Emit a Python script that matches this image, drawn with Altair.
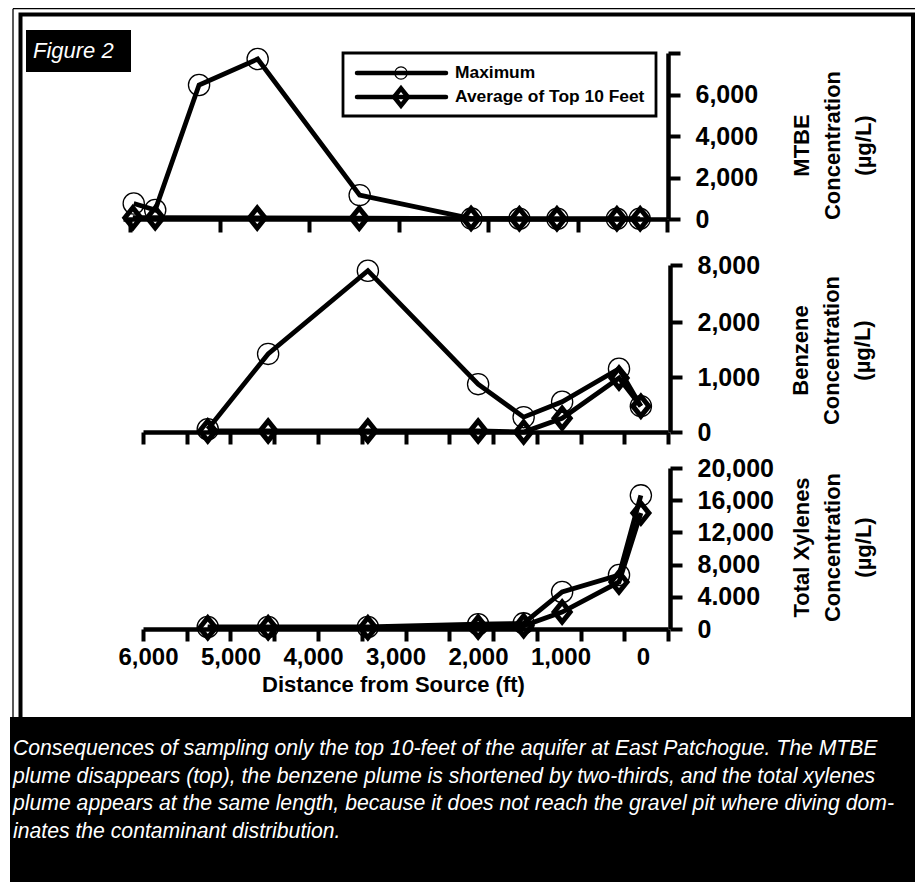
import altair as alt
import pandas as pd

# ---------------- data ----------------
# MTBE (top panel)
mtbe_max_dist = [5960, 5720, 5230, 4575, 3435, 2185, 1650, 1225, 560, 305]
mtbe_max_val = [750, 430, 6460, 7710, 1150, 20, 10, 10, 10, 10]
mtbe_avg_dist = [5970, 5720, 4580, 3440, 2190, 1650, 1230, 560, 300]
mtbe_avg_val = [60, 60, 50, 40, 20, 10, 10, 10, 10]

# Benzene and total xylenes (same wells)
well_dist = [5260, 4570, 3430, 2170, 1650, 1210, 560, 310]
benz_max = [50, 1420, 7400, 870, 270, 550, 1150, 470]
benz_avg = [20, 20, 20, 20, 0, 250, 980, 470]
xyl_max = [250, 250, 250, 600, 700, 4600, 6700, 16600]
xyl_avg = [150, 150, 150, 250, 400, 2100, 5840, 14400]

mtbe_ticks = [0, 2000, 4000, 6000, 8000]
benz_ticks = [0, 1000, 2000, 8000]
xyl_ticks = [0, 4000, 8000, 12000, 16000, 20000]
top_x_ticks = [6000, 5000, 4000, 3000, 2000, 1000, 0]
x_ticks = [6000, 5500, 5000, 4500, 4000, 3500, 3000, 2500, 2000, 1500, 1000, 500, 0]
x_label_values = [6000, 5000, 4000, 3000, 2000, 1000, 0]

legend_labels = ["Maximum", "Average of Top 10 Feet"]
figure_label = "Figure 2"
x_title = "Distance from Source (ft)"
mtbe_title = ["MTBE", "Concentration", "(\u00b5g/L)"]
benz_title = ["Benzene", "Concentration", "(\u00b5g/L)"]
xyl_title = ["Total Xylenes", "Concentration", "(\u00b5g/L)"]
caption_lines = [
    "Consequences of sampling only the top 10-feet of the aquifer at East Patchogue. The MTBE",
    "plume disappears (top), the benzene plume is shortened by two-thirds, and the total xylenes",
    "plume appears at the same length, because it does not reach the gravel pit where diving dom-",
    "inates the contaminant distribution.",
]

# ---------------- layout ----------------
W, H = 907, 874
BOLD = "Liberation Sans"
ITAL = "Liberation Sans"
DIAMOND = "M-0.8,0L0,-1L0.8,0L0,1Z"
FMT = "format(datum.value, ',')"
one = pd.DataFrame({"k": [0]})


def yaxis(offset_x, values, title, tx, ty, label_expr=FMT):
    return alt.Axis(
        orient="right", offset=offset_x - W, values=values, labelExpr=label_expr,
        domainColor="black", domainWidth=4.5, tickColor="black", tickWidth=4,
        tickSize=12, labelPadding=15, labelFont=BOLD, labelFontWeight="bold",
        labelFontSize=25, labelColor="black", labelBaseline="middle",
        labelAlign="left", labelOverlap=False, labelFlush=False, grid=False,
        title=title, titleFont=BOLD, titleFontWeight="bold", titleFontSize=22,
        titleColor="black", titleAngle=270, titleX=tx, titleY=ty,
        titleAlign="center", titleBaseline="middle", titleLineHeight=31,
    )


def xaxis(offset_y, values, tick_size):
    return alt.Axis(
        orient="bottom", offset=offset_y - H, values=values, labels=False,
        domainColor="black", domainWidth=4.5, tickColor="black", tickWidth=4,
        tickSize=tick_size, grid=False, title=None,
    )


def panel(max_d, max_v, avg_d, avg_v, xs, ys, xa, ya):
    dmax = pd.DataFrame({"d": max_d, "v": max_v})
    davg = pd.DataFrame({"d": avg_d, "v": avg_v})
    X = alt.X("d:Q", scale=xs, axis=xa)
    Y = alt.Y("v:Q", scale=ys, axis=ya)
    lmax = alt.Chart(dmax).mark_line(color="black", strokeWidth=4.8).encode(x=X, y=Y)
    lavg = alt.Chart(davg).mark_line(color="black", strokeWidth=4.8).encode(x=X, y=Y)
    pmax = alt.Chart(dmax).mark_point(
        shape="circle", filled=False, size=450, color="black", strokeWidth=1.3, opacity=1
    ).encode(x=X, y=Y)
    pavg = alt.Chart(davg).mark_point(
        shape=DIAMOND, filled=False, size=400, color="black", strokeWidth=5, opacity=1
    ).encode(x=X, y=Y)
    return alt.layer(lmax, lavg, pavg, pmax)


top_xs = alt.Scale(domain=[6080, 0], range=[115, 659], nice=False, zero=False)
bot_xs1 = alt.Scale(domain=[6000, 0], range=[135, 660], nice=False, zero=False)
bot_xs2 = alt.Scale(domain=[6000, 0], range=[135, 660], nice=False, zero=False)

mtbe = panel(
    mtbe_max_dist, mtbe_max_val, mtbe_avg_dist, mtbe_avg_val, top_xs,
    alt.Scale(domain=[0, 8000], range=[211, 45], nice=False, zero=False),
    xaxis(211, top_x_ticks, 13),
    yaxis(660, mtbe_ticks, mtbe_title, 133, 137,
          "datum.value == 8000 ? '' : format(datum.value, ',')"),
)
benz = panel(
    well_dist, benz_max, well_dist, benz_avg, bot_xs1,
    alt.Scale(domain=[0, 2000, 8000], range=[424, 314, 257], nice=False, zero=False),
    xaxis(424, x_ticks, 12),
    yaxis(662, benz_ticks, benz_title, 130, 342),
)
xyl = panel(
    well_dist, xyl_max, well_dist, xyl_avg, bot_xs2,
    alt.Scale(domain=[0, 20000], range=[621, 460], nice=False, zero=False),
    xaxis(621, x_ticks, 12),
    yaxis(662, xyl_ticks, xyl_title, 131, 539,
          "datum.value == 4000 ? '4.000' : format(datum.value, ',')"),
)

# distance labels (printed slightly compressed relative to the ticks)
labels = alt.Chart(pd.DataFrame({"d": x_label_values})).mark_point(opacity=0).encode(
    x=alt.X(
        "d:Q",
        scale=alt.Scale(domain=[6061, -303], range=[135, 660], nice=False, zero=False),
        axis=alt.Axis(
            orient="bottom", offset=621 - H, values=x_label_values, labelExpr=FMT,
            ticks=False, tickSize=0, domain=False, grid=False, labelPadding=16,
            labelFont=BOLD, labelFontWeight="bold", labelFontSize=24,
            labelColor="black", labelOverlap=False, labelFlush=False,
            title=x_title, titleFont=BOLD, titleFontWeight="bold",
            titleFontSize=22, titleColor="black", titleX=385, titleY=55,
            titleAlign="center", titleBaseline="middle",
        ),
    )
)

# ---------------- decorations ----------------
frame = alt.Chart(one).mark_rect(fillOpacity=0, stroke="black", strokeWidth=4).encode(
    x=alt.value(12.5), x2=alt.value(905), y=alt.value(6.5), y2=alt.value(873)
)
thin_left = alt.Chart(one).mark_rule(color="black", strokeWidth=1.3).encode(
    x=alt.value(5), y=alt.value(0.7), y2=alt.value(874)
)
thin_top = alt.Chart(one).mark_rule(color="black", strokeWidth=1.3).encode(
    x=alt.value(5), x2=alt.value(907), y=alt.value(0.7)
)
cap_box = alt.Chart(one).mark_rect(color="black").encode(
    x=alt.value(2), x2=alt.value(906), y=alt.value(709), y2=alt.value(874)
)
cap_text = alt.Chart(pd.DataFrame({"t": ["\n".join(caption_lines)]})).mark_text(
    align="left", baseline="alphabetic", font=ITAL, fontStyle="italic",
    fontSize=21.2, color="white", lineBreak="\n", lineHeight=27.7
).encode(x=alt.value(5), y=alt.value(747), text="t:N")

fig_box = alt.Chart(one).mark_rect(color="black").encode(
    x=alt.value(18), x2=alt.value(123), y=alt.value(22), y2=alt.value(64)
)
fig_text = alt.Chart(pd.DataFrame({"t": [figure_label]})).mark_text(
    align="left", baseline="middle", font=ITAL, fontStyle="italic",
    fontSize=22, color="white"
).encode(x=alt.value(25), y=alt.value(43), text="t:N")

leg_box = alt.Chart(one).mark_rect(fill="white", stroke="black", strokeWidth=2.8).encode(
    x=alt.value(335), x2=alt.value(648), y=alt.value(45), y2=alt.value(108)
)
leg_parts = [leg_box]
for i, lab in enumerate(legend_labels):
    yy = 65 + 24 * i
    leg_parts.append(
        alt.Chart(one).mark_rule(color="black", strokeWidth=4.5, strokeCap="round").encode(
            x=alt.value(349), x2=alt.value(438), y=alt.value(yy)
        )
    )
    if i == 0:
        leg_parts.append(
            alt.Chart(one).mark_point(shape="circle", filled=False, size=150,
                                      color="black", strokeWidth=1.2, opacity=1).encode(
                x=alt.value(393), y=alt.value(yy)
            )
        )
    else:
        leg_parts.append(
            alt.Chart(one).mark_point(shape=DIAMOND, filled=False, size=300,
                                      color="black", strokeWidth=4.5, opacity=1).encode(
                x=alt.value(393), y=alt.value(yy)
            )
        )
    leg_parts.append(
        alt.Chart(pd.DataFrame({"t": [lab]})).mark_text(
            align="left", baseline="middle", font=BOLD, fontWeight="bold",
            fontSize=17.4, color="black"
        ).encode(x=alt.value(447), y=alt.value(yy), text="t:N")
    )

chart = alt.layer(
    frame, thin_left, thin_top, cap_box, cap_text, fig_box, fig_text,
    *leg_parts, mtbe, benz, xyl, labels
).resolve_scale(x="independent", y="independent").properties(
    width=W, height=H, autosize=alt.AutoSizeParams(type="none"), padding=0,
    background="white"
).configure_view(strokeWidth=0)

chart.save("out.html", embed_options={"renderer": "svg", "actions": False})
